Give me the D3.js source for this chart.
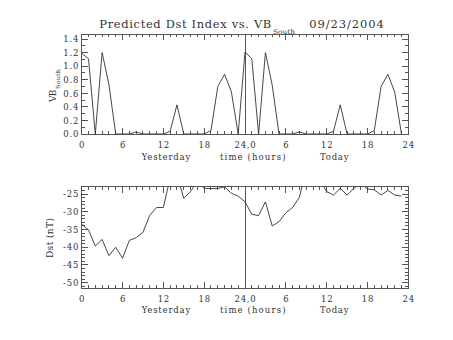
<!DOCTYPE html>
<html>
<head>
<meta charset="utf-8">
<script src="https://cdn.jsdelivr.net/npm/d3@7"></script>
<style>
  html, body { margin: 0; padding: 0; background: #fff; }
  svg { display: block; }
  text { font-family: "DejaVu Serif", "Liberation Serif", serif; fill: #333; }
</style>
</head>
<body>
<svg id="chart" width="453" height="340"></svg>
<script>
// ---- data (hourly values) ----
const vbYesterday = [1.19, 1.11, 0, 1.2, 0.73, 0, 0, 0, 0.03, 0, 0, 0, 0, 0.04, 0.43, 0, 0, 0, 0, 0.05, 0.70, 0.88, 0.62, 0];
const vbToday     = [1.21, 1.11, 0, 1.2, 0.72, 0, 0, 0, 0.03, 0, 0, 0, 0, 0.04, 0.43, 0, 0, 0, 0, 0.05, 0.70, 0.88, 0.62, 0];
const dstYesterday = [-33.5, -35.1, -39.7, -37.8, -42.4, -40.0, -43.1, -38.1, -37.3, -35.8, -31.0, -28.8, -28.8, -20.4, -19.6, -26.2, -24.3, -21.5, -23.4, -23.5, -23.4, -23.0, -24.8, -25.6];
const dstToday     = [-27.2, -30.7, -31.1, -27.2, -34.0, -32.8, -30.3, -28.8, -25.9, -18.0, -18.0, -21.0, -24.3, -25.3, -23.4, -25.3, -23.4, -22.0, -23.6, -23.8, -25.3, -24.0, -25.3, -25.6];

const xTickValues = [0, 6, 12, 18, 24, 30, 36, 42, 48];
const xTickLabels = ["0", "6", "12", "18", "24,0", "6", "12", "18", "24"];
const vbTickValues = [0, 0.2, 0.4, 0.6, 0.8, 1.0, 1.2, 1.4];
const dstTickValues = [-50, -45, -40, -35, -30, -25];

// ---- layout ----
const svg = d3.select("#chart");
const x = d3.scaleLinear().domain([0, 48]).range([81.7, 408.3]);
const yTop = d3.scaleLinear().domain([0, 1.47]).range([134, 34.3]);
const yBot = d3.scaleLinear().domain([-51.58, -22.94]).range([288.3, 186.7]);

const majorLen = 6, minorLen = 3;
const stroke = "#555";

function series(yest, today) {
  return yest.map((v, i) => ({ h: i, v })).concat(today.map((v, i) => ({ h: i + 24, v })));
}

function panel(id, y, yTicks, yMinorStep, yFmt, data) {
  const g = svg.append("g");
  const [x0, x1] = x.range();
  const [yb, yt] = y.range();

  g.append("clipPath").attr("id", id).append("rect")
    .attr("x", x0).attr("y", yt).attr("width", x1 - x0).attr("height", yb - yt);

  // minor x ticks (every hour) bottom + top
  const xMinor = d3.range(0, 49, 1).filter(h => h % 6 !== 0);
  const xg = g.append("g").attr("stroke", stroke).attr("stroke-width", 1).attr("shape-rendering", "crispEdges");
  xMinor.forEach(h => {
    xg.append("line").attr("x1", x(h)).attr("x2", x(h)).attr("y1", yb).attr("y2", yb - minorLen);
    xg.append("line").attr("x1", x(h)).attr("x2", x(h)).attr("y1", yt).attr("y2", yt + minorLen);
  });
  xTickValues.forEach(h => {
    xg.append("line").attr("x1", x(h)).attr("x2", x(h)).attr("y1", yb).attr("y2", yb - majorLen);
    xg.append("line").attr("x1", x(h)).attr("x2", x(h)).attr("y1", yt).attr("y2", yt + majorLen);
  });

  // bottom axis labels via d3 axis
  const ax = d3.axisBottom(x).tickValues(xTickValues).tickSize(0).tickPadding(0)
    .tickFormat((d, i) => xTickLabels[i]);
  const axg = g.append("g").attr("transform", `translate(0,${yb})`).call(ax);
  axg.select(".domain").remove();
  axg.selectAll("text").attr("font-family", "DejaVu Serif").attr("font-size", 8.5)
    .attr("letter-spacing", 0.8).attr("dy", 0).attr("y", 14).attr("fill", "#333");

  // y ticks
  const [d0, d1] = y.domain();
  const yg = g.append("g").attr("stroke", stroke).attr("stroke-width", 1).attr("shape-rendering", "crispEdges");
  const startMinor = Math.ceil(d0 / yMinorStep - 1e-6);
  for (let k = startMinor; k * yMinorStep <= d1 + 1e-9; k++) {
    const v = k * yMinorStep;
    const isMajor = yTicks.some(t => Math.abs(t - v) < 1e-6);
    const len = isMajor ? majorLen : minorLen;
    yg.append("line").attr("x1", x0).attr("x2", x0 + len).attr("y1", y(v)).attr("y2", y(v));
    yg.append("line").attr("x1", x1).attr("x2", x1 - len).attr("y1", y(v)).attr("y2", y(v));
  }
  const ay = d3.axisLeft(y).tickValues(yTicks).tickSize(0).tickPadding(0).tickFormat(yFmt);
  const ayg = g.append("g").attr("transform", `translate(${x0 - 2.5},0)`).call(ay);
  ayg.select(".domain").remove();
  ayg.selectAll("text").attr("font-family", "DejaVu Serif").attr("font-size", 8.5)
    .attr("letter-spacing", 0.8).attr("fill", "#333");

  // frame
  g.append("rect").attr("x", x0).attr("y", yt).attr("width", x1 - x0).attr("height", yb - yt)
    .attr("fill", "none").attr("stroke", stroke).attr("stroke-width", 1).attr("shape-rendering", "crispEdges");

  // day divider
  g.append("line").attr("x1", x(24)).attr("x2", x(24)).attr("y1", yt).attr("y2", yb)
    .attr("stroke", stroke).attr("stroke-width", 1).attr("shape-rendering", "crispEdges");

  // data line
  const line = d3.line().x(d => x(d.h)).y(d => y(d.v));
  g.append("path").datum(data).attr("d", line).attr("fill", "none")
    .attr("stroke", "#333").attr("stroke-width", 0.9).attr("clip-path", `url(#${id})`);

  return g;
}

panel("clipTop", yTop, vbTickValues, 0.1, d3.format(".1f"), series(vbYesterday, vbToday));
panel("clipBot", yBot, dstTickValues, 1, d => d.toString(), series(dstYesterday, dstToday));

// ---- titles and axis names ----
const t = svg.append("text").attr("y", 28.3).attr("font-size", 11.5);
t.append("tspan").attr("x", 99.3).attr("textLength", 172).attr("lengthAdjust", "spacing").text("Predicted Dst Index vs. VB");
svg.append("text").attr("x", 273).attr("y", 34).attr("font-size", 6.5).attr("textLength", 22).attr("lengthAdjust", "spacingAndGlyphs").text("South");
svg.append("text").attr("x", 309.3).attr("y", 28.3).attr("font-size", 11.5).attr("textLength", 74.5).attr("lengthAdjust", "spacing").text("09/23/2004");

function names(baseY) {
  svg.append("text").attr("x", 141.7).attr("y", baseY).attr("font-size", 8.5)
    .attr("textLength", 48.5).attr("lengthAdjust", "spacing").text("Yesterday");
  svg.append("text").attr("x", 220).attr("y", baseY).attr("font-size", 8.5)
    .attr("textLength", 65.5).attr("lengthAdjust", "spacing").text("time (hours)");
  svg.append("text").attr("x", 320).attr("y", baseY).attr("font-size", 8.5)
    .attr("textLength", 28.5).attr("lengthAdjust", "spacing").text("Today");
}
names(160.3);
names(313.3);

// y axis titles (rotated)
const vbT = svg.append("g").attr("transform", "translate(55.5,102) rotate(-90)");
vbT.append("text").attr("x", 0).attr("y", 0).attr("font-size", 9).attr("textLength", 12.5).attr("lengthAdjust", "spacing").text("VB");
vbT.append("text").attr("x", 13).attr("y", 4.5).attr("font-size", 5.5).attr("textLength", 20).attr("lengthAdjust", "spacingAndGlyphs").text("South");

svg.append("g").attr("transform", "translate(53,258) rotate(-90)")
  .append("text").attr("font-size", 9).attr("textLength", 40).attr("lengthAdjust", "spacing").text("Dst (nT)");
</script>
</body>
</html>
